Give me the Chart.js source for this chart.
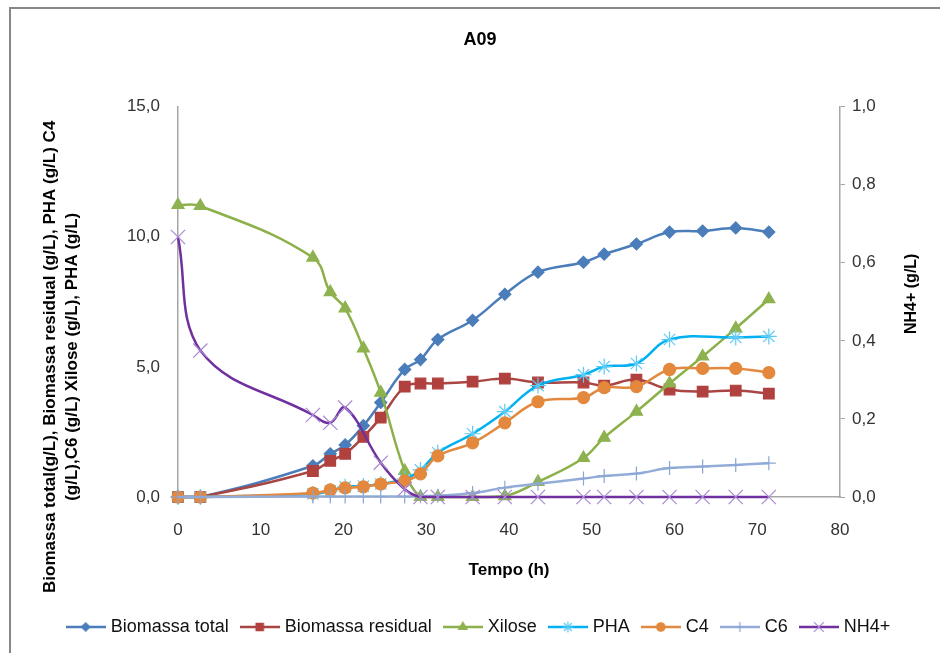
<!DOCTYPE html>
<html>
<head>
<meta charset="utf-8">
<script src="https://cdn.jsdelivr.net/npm/chart.js@4.4.0/dist/chart.umd.min.js"></script>
<style>
  html, body { margin: 0; padding: 0; background: #fff; }
</style>
</head>
<body>
<canvas id="grafico" width="940" height="653"></canvas>
<script>
var tempo = [0, 2.7, 16.3, 18.4, 20.2, 22.4, 24.5, 27.4, 29.3, 31.4, 35.6, 39.5, 43.5, 49.0, 51.5, 55.4, 59.4, 63.4, 67.4, 71.4];

var biomassaTotal    = [0, 0, 1.2, 1.66, 2.0, 2.74, 3.63, 4.9, 5.28, 6.05, 6.79, 7.79, 8.64, 9.02, 9.33, 9.72, 10.18, 10.22, 10.34, 10.18];
var biomassaResidual = [0, 0, 1.0, 1.39, 1.66, 2.31, 3.05, 4.24, 4.36, 4.36, 4.43, 4.55, 4.40, 4.40, 4.28, 4.51, 4.13, 4.05, 4.09, 3.97];
var xilose           = [11.22, 11.18, 9.2, 7.87, 7.25, 5.71, 4.01, 1.0, 0, 0, 0, 0.03, 0.58, 1.5, 2.28, 3.28, 4.36, 5.4, 6.48, 7.6];
var pha              = [0, 0, 0.12, 0.23, 0.39, 0.42, 0.5, 0.69, 1.04, 1.70, 2.43, 3.28, 4.28, 4.70, 5.01, 5.13, 6.05, null, 6.13, 6.17];
var c4               = [0, 0, 0.15, 0.27, 0.35, 0.39, 0.5, 0.62, 0.89, 1.58, 2.08, 2.85, 3.66, 3.82, 4.2, 4.24, 4.9, 4.94, 4.94, 4.78];
var c6               = [0, 0, 0.02, 0.02, 0.02, 0.02, 0.02, 0.02, 0.03, 0.05, 0.15, 0.36, 0.51, 0.71, 0.81, 0.9, 1.11, 1.17, 1.23, 1.30];
var nh4              = [0.666, 0.375, 0.21, 0.19, 0.229, null, 0.088, 0.02, 0, 0, 0, 0, 0, 0, 0, 0, 0, 0, 0, 0];

var ticksX  = [0, 10, 20, 30, 40, 50, 60, 70, 80];
var ticksY  = [0, 5, 10, 15];
var ticksY1 = [0, 0.2, 0.4, 0.6, 0.8, 1.0];

var tituloY = ['Biomassa total(g/L), Biomassa residual (g/L), PHA (g/L) C4', '(g/L),C6 (g/L) Xilose (g/L), PHA (g/L)'];
var tituloY1 = 'NH4+ (g/L)';

var fonte = '"Liberation Sans", Arial, sans-serif';
Chart.defaults.font.family = fonte;

var series = [
  {nome: 'Biomassa total',    valores: biomassaTotal,    cor: '#4A7DBA', marca: '#4A7DBA', estilo: 'rectRot',  raio: 6,   eixo: 'y'},
  {nome: 'Biomassa residual', valores: biomassaResidual, cor: '#A94542', marca: '#B0413E', estilo: 'rect',     raio: 7.5, eixo: 'y'},
  {nome: 'Xilose',            valores: xilose,           cor: '#8CB04A', marca: '#8DB24E', estilo: 'triangle', raio: 7,   eixo: 'y'},
  {nome: 'PHA',               valores: pha,              cor: '#00B0F0', marca: '#5CCBF5', estilo: 'star',     raio: 8,   eixo: 'y'},
  {nome: 'C4',                valores: c4,               cor: '#E3893F', marca: '#E3883C', estilo: 'circle',   raio: 6,   eixo: 'y'},
  {nome: 'C6',                valores: c6,               cor: '#93ADD8', marca: '#8AA6D4', estilo: 'cross',    raio: 7,   eixo: 'y'},
  {nome: 'NH4+',              valores: nh4,              cor: '#7030A0', marca: '#A989D2', estilo: 'crossRot', raio: 10,  eixo: 'y1'}
];

function pontos(vals) {
  return tempo.map(function (t, i) { return {x: t, y: vals[i]}; });
}

function iconeLegenda(s) {
  var c = document.createElement('canvas');
  c.width = 40; c.height = 16;
  var g = c.getContext('2d');
  g.strokeStyle = s.cor; g.lineWidth = 2.5;
  g.beginPath(); g.moveTo(0, 8); g.lineTo(40, 8); g.stroke();
  g.fillStyle = s.marca; g.strokeStyle = s.marca; g.lineWidth = 1.2;
  Chart.helpers.drawPoint(g, {pointStyle: s.estilo, radius: s.raio * 0.7, borderWidth: 1.2, rotation: 0}, 20, 8);
  return c;
}

var datasets = series.map(function (s, i) {
  return {
    label: s.nome,
    data: pontos(s.valores),
    yAxisID: s.eixo,
    borderColor: s.cor,
    backgroundColor: s.marca,
    borderWidth: 2.5,
    pointStyle: s.estilo,
    pointRadius: s.raio,
    pointBackgroundColor: s.marca,
    pointBorderColor: s.marca,
    pointBorderWidth: 1.2,
    tension: 0.4,
    spanGaps: true,
    clip: false,
    order: -i
  };
});

var virgula = function (v) { return v.toFixed(1).replace('.', ','); };

var extras = {
  id: 'extras',
  beforeDraw: function (chart) {
    var g = chart.ctx;
    g.save();
    g.fillStyle = '#fff';
    g.fillRect(0, 0, chart.width, chart.height);
    g.strokeStyle = '#878787';
    g.lineWidth = 2;
    g.strokeRect(10, 8, 1000, 1000);
    g.restore();
  },
  afterDraw: function (chart) {
    var g = chart.ctx;
    var a = chart.chartArea;
    var meio = (a.top + a.bottom) / 2;
    g.save();
    g.fillStyle = '#000';
    g.font = 'bold 17px ' + fonte;
    g.textAlign = 'center';
    g.textBaseline = 'middle';
    g.save();
    g.translate(a.left - 128, meio + 55);
    g.rotate(-Math.PI / 2);
    g.fillText(tituloY[0], 0, 0);
    g.fillText(tituloY[1], 0, 22);
    g.restore();
    g.font = 'bold 16px ' + fonte;
    g.translate(a.right + 72, meio - 8);
    g.rotate(-Math.PI / 2);
    g.fillText(tituloY1, 0, 0);
    g.restore();
  }
};

new Chart(document.getElementById('grafico'), {
  type: 'line',
  data: {datasets: datasets},
  plugins: [extras],
  options: {
    responsive: false,
    animation: false,
    devicePixelRatio: 1,
    layout: {padding: {top: 0, right: 0, bottom: 7, left: 20}},
    plugins: {
      tooltip: {enabled: false},
      title: {
        display: true,
        text: 'A09',
        color: '#000',
        font: {size: 18, weight: 'bold'},
        padding: {top: 29, bottom: 56}
      },
      legend: {
        position: 'bottom',
        labels: {
          color: '#111',
          font: {size: 18},
          usePointStyle: true,
          pointStyleWidth: 32,
          padding: 15,
          sort: function (a, b) { return a.datasetIndex - b.datasetIndex; },
          generateLabels: function (chart) {
            var itens = Chart.defaults.plugins.legend.labels.generateLabels(chart);
            itens.forEach(function (it) { it.pointStyle = iconeLegenda(series[it.datasetIndex]); });
            return itens;
          }
        }
      }
    },
    scales: {
      x: {
        type: 'linear',
        min: 0, max: 80,
        afterBuildTicks: function (s) { s.ticks = ticksX.map(function (v) { return {value: v}; }); },
        afterFit: function (s) { s.height = 106; },
        grid: {display: true, drawOnChartArea: false, drawTicks: false},
        border: {color: '#a6a6a6', width: 1.5},
        ticks: {color: '#333', font: {size: 17}, padding: 23, maxRotation: 0},
        title: {display: true, text: 'Tempo (h)', color: '#000', font: {size: 17, weight: 'bold'}, padding: {top: 0, bottom: 22}}
      },
      y: {
        position: 'left',
        min: 0, max: 15,
        afterBuildTicks: function (s) { s.ticks = ticksY.map(function (v) { return {value: v}; }); },
        afterFit: function (s) { s.width = 158; },
        grid: {display: true, drawOnChartArea: false, drawTicks: false},
        border: {color: '#a6a6a6', width: 1.5},
        ticks: {color: '#333', font: {size: 17}, padding: 18, callback: virgula}
      },
      y1: {
        position: 'right',
        min: 0, max: 1,
        afterBuildTicks: function (s) { s.ticks = ticksY1.map(function (v) { return {value: v}; }); },
        afterFit: function (s) { s.width = 100; },
        grid: {display: true, drawOnChartArea: false, drawTicks: true, tickLength: 5, color: '#a6a6a6'},
        border: {color: '#a6a6a6', width: 1.5},
        ticks: {color: '#333', font: {size: 17}, padding: 7, callback: virgula}
      }
    }
  }
});
</script>
</body>
</html>
